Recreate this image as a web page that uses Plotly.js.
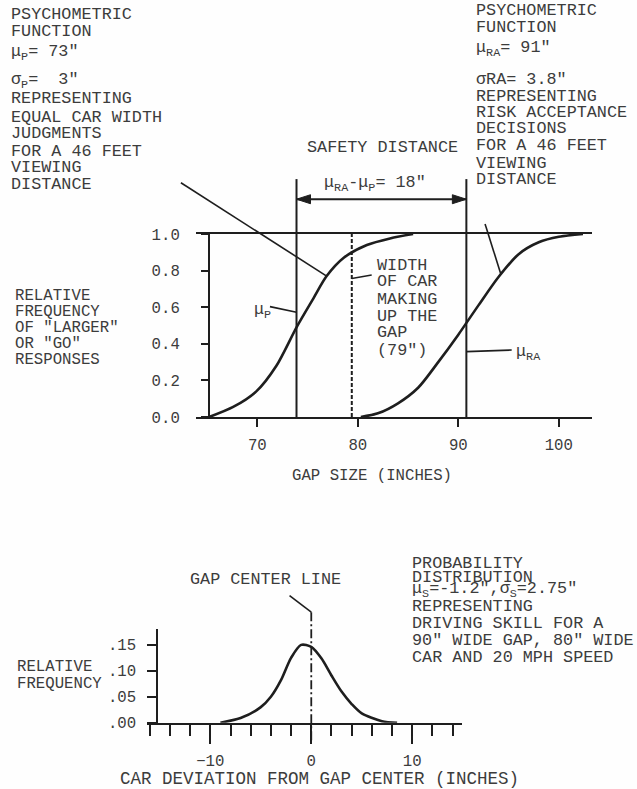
<!DOCTYPE html>
<html><head><meta charset="utf-8">
<script src="https://cdn.plot.ly/plotly-3.0.1.min.js"></script>
<style>html,body{margin:0;padding:0;background:#fefefe}#chart{width:637px;height:789px}</style>
</head><body><div id="chart"></div>
<script>
// ===== DATA: upper panel (psychometric functions) =====
const perceptX = [65.2, 67.6, 69.9, 71.9, 73.9, 75.6, 76.9, 78.6, 80.9, 83.2, 85.5];
const perceptY = [0, 0.055, 0.14, 0.28, 0.49, 0.65, 0.77, 0.87, 0.94, 0.976, 1.0];
const riskX = [80.3, 82, 84, 86, 88, 90, 92, 94, 96, 98, 100, 102.4];
const riskY = [0, 0.02, 0.075, 0.16, 0.30, 0.45, 0.61, 0.765, 0.89, 0.955, 0.985, 1.0];
const muPLine = 73.9;
const muRALine = 90.8;
const carWidthLine = 79.4;
const upperXTicks = [70, 80, 90, 100];
const upperYTicks = [0, 0.2, 0.4, 0.6, 0.8, 1.0];
const upperYTickText = ["0.0", "0.2", "0.4", "0.6", "0.8", "1.0"];

// ===== DATA: lower panel (driving skill distribution) =====
const devX = [-9, -7, -5, -4, -3, -2, -1, 0, 1, 2, 3, 4, 5, 7, 8.5];
const devY = [0, 0.009, 0.03, 0.05, 0.082, 0.125, 0.15, 0.146, 0.124, 0.091, 0.06, 0.036, 0.018, 0.003, 0];
const gapCenterLine = 0;
const lowerYTicks = [0, 0.05, 0.10, 0.15];
const lowerYTickText = [".00", ".05", ".10", ".15"];

// ===== TEXT =====
const leftNote = ["PSYCHOMETRIC", "FUNCTION", "μ<sub>P</sub>= 73\"", "σ<sub>P</sub>=\u00a0\u00a03\"", "REPRESENTING",
  "EQUAL CAR WIDTH", "JUDGMENTS", "FOR A 46 FEET", "VIEWING", "DISTANCE"];
const rightNote = ["PSYCHOMETRIC", "FUNCTION", "μ<sub>RA</sub>= 91\"", "σRA= 3.8\"", "REPRESENTING",
  "RISK ACCEPTANCE", "DECISIONS", "FOR A 46 FEET", "VIEWING", "DISTANCE"];
const upperYTitle = ["RELATIVE", "FREQUENCY", "OF \"LARGER\"", "OR \"GO\"", "RESPONSES"];
const widthNote = ["WIDTH", "OF CAR", "MAKING", "UP THE", "GAP", "(79\")"];
const skillNote = ["PROBABILITY", "DISTRIBUTION", "μ<sub>S</sub>=-1.2\",σ<sub>S</sub>=2.75\"", "REPRESENTING",
  "DRIVING SKILL FOR A", "90\" WIDE GAP, 80\" WIDE", "CAR AND 20 MPH SPEED"];
const lowerYTitle = ["RELATIVE", "FREQUENCY"];

// ===== LAYOUT =====
const W = 637, H = 789;
const INK = "#1e1e1e", TXT = "#3c3c3c";
const FONT = "Liberation Mono, Courier New, monospace";
const px = v => v / W, py = v => 1 - v / H;

const xa1 = {domain: [px(196), px(592)], range: [63.9, 103.3], anchor: "y",
  showline: true, mirror: true, linecolor: INK, linewidth: 2, showgrid: false, zeroline: false,
  tickmode: "array", tickvals: upperXTicks, ticks: "outside", ticklen: 8, tickwidth: 2, tickcolor: INK,
  ticklabelstandoff: 4, tickfont: {family: FONT, size: 15.7, color: TXT}};
const ya1 = {domain: [py(417), py(234)], range: [0, 1], anchor: "free", position: px(209),
  showline: true, linecolor: INK, linewidth: 2, showgrid: false, zeroline: false,
  tickmode: "array", tickvals: upperYTicks, ticktext: upperYTickText, ticks: "outside", ticklen: 7,
  tickwidth: 2, tickcolor: INK, ticklabelstandoff: 18, tickfont: {family: FONT, size: 15.7, color: TXT}};
const xa2 = {domain: [px(146.7), px(461.7)], range: [-16.3, 14.9], anchor: "y2",
  showline: true, linecolor: INK, linewidth: 2, showgrid: false, zeroline: false,
  tick0: 0, dtick: 10, ticks: "outside", ticklen: 19, tickwidth: 2, tickcolor: INK,
  minor: {tick0: 0, dtick: 2, ticks: "outside", ticklen: 11, tickwidth: 2, tickcolor: INK, showgrid: false},
  ticklabelstandoff: 3, tickfont: {family: FONT, size: 15.7, color: TXT}};
const ya2 = {domain: [py(722.7), py(629.3)], range: [0, 0.18], anchor: "free", position: px(157.3),
  showline: true, linecolor: INK, linewidth: 2, showgrid: false, zeroline: false,
  tickmode: "array", tickvals: lowerYTicks, ticktext: lowerYTickText, ticks: "outside", ticklen: 9,
  tickwidth: 2, tickcolor: INK, ticklabelstandoff: 8, tickfont: {family: FONT, size: 15.7, color: TXT}};

// data -> paper through each axis' own domain & range
const toPaper = (ax, v) => ax.domain[0] + (v - ax.range[0]) / (ax.range[1] - ax.range[0]) * (ax.domain[1] - ax.domain[0]);

const annotations = [];
function textLines(lines, xPx, yPx, size) {
  lines.forEach((t, i) => annotations.push({text: t, xref: "paper", yref: "paper", x: px(xPx), y: py(yPx[i]),
    xanchor: "left", yanchor: "middle", showarrow: false, font: {family: FONT, size: size, color: TXT}}));
}
textLines(leftNote, 9, [14, 32, 53, 81, 99, 117, 134, 151, 167, 184], 16.8);
textLines(rightNote, 474, [11, 27.5, 49, 79, 96, 112, 128.5, 145.5, 163, 180], 16.8);
textLines(upperYTitle, 13, [296, 312, 328, 344, 360], 15.7);
textLines(widthNote, 375, [265, 282, 299, 316, 333, 350], 16.8);
textLines(skillNote, 410, [563, 577, 590, 606, 623, 640, 657], 16.8);
textLines(lowerYTitle, 15, [667, 684], 15.7);
textLines(["SAFETY DISTANCE"], 305, [147], 16.8);
textLines(["μ<sub>RA</sub>-μ<sub>P</sub>= 18\""], 322, [184], 16.8);
textLines(["μ<sub>P</sub>"], 252, [311], 16.8);
textLines(["μ<sub>RA</sub>"], 514, [353], 16.8);
textLines(["GAP CENTER LINE"], 188, [579], 16.8);
textLines(["GAP SIZE (INCHES)"], 290, [476], 15.7);
textLines(["CAR DEVIATION FROM GAP CENTER (INCHES)"], 118, [779], 17.5);

const shapes = [];
// leader line between two data points of a panel (paper coords so it is not clipped)
function leader(xa, ya, x0, y0, x1, y1, w) {
  shapes.push({type: "line", xref: "paper", yref: "paper",
    x0: toPaper(xa, x0), y0: toPaper(ya, y0), x1: toPaper(xa, x1), y1: toPaper(ya, y1),
    line: {color: INK, width: w || 1.6}});
}
leader(xa1, ya1, 76.9, 0.77, 62.4, 1.28);
leader(xa1, ya1, muPLine, 0.572, 71.26, 0.603);
leader(xa1, ya1, 94.2, 0.786, 92.66, 1.055);
leader(xa1, ya1, muRALine, 0.357, 95.31, 0.366);
leader(xa1, ya1, carWidthLine, 0.757, 81.38, 0.776);
leader(xa1, ya1, muPLine, 0, muPLine, 1.3, 2);
leader(xa1, ya1, muRALine, 0, muRALine, 1.3, 2);
leader(xa2, ya2, gapCenterLine, 0.213, -2.15, 0.245);
// safety distance double arrow
const arrowY = 1.19;
leader(xa1, ya1, muPLine, arrowY, muRALine, arrowY, 1.8);
function head(xa, ya, xv, yv, dir) {
  const X = toPaper(xa, xv), Y = toPaper(ya, yv);
  const L = 14 / W * dir, Hh = 4.5 / H;
  shapes.push({type: "path", xref: "paper", yref: "paper",
    path: `M ${X} ${Y} L ${X - L} ${Y + Hh} L ${X - L} ${Y - Hh} Z`,
    fillcolor: INK, line: {color: INK, width: 1}});
}
head(xa1, ya1, muPLine, arrowY, -1);
head(xa1, ya1, muRALine, arrowY, 1);
// dashed car-width line and dash-dot gap centre line
shapes.push({type: "line", xref: "x", yref: "y", x0: carWidthLine, x1: carWidthLine, y0: 0, y1: 1,
  line: {color: INK, width: 2, dash: "4px,2px"}});
shapes.push({type: "line", xref: "paper", yref: "paper",
  x0: toPaper(xa2, gapCenterLine), x1: toPaper(xa2, gapCenterLine),
  y0: toPaper(ya2, -0.034), y1: toPaper(ya2, 0.213), line: {color: INK, width: 1.8, dash: "9px,3px,2px,3px"}});

const traces = [
  {x: perceptX, y: perceptY, xaxis: "x", yaxis: "y", mode: "lines", line: {color: INK, width: 2.6, shape: "spline", smoothing: 0.8}, hoverinfo: "skip"},
  {x: riskX, y: riskY, xaxis: "x", yaxis: "y", mode: "lines", line: {color: INK, width: 2.6, shape: "spline", smoothing: 0.8}, hoverinfo: "skip"},
  {x: devX, y: devY, xaxis: "x2", yaxis: "y2", mode: "lines", line: {color: INK, width: 2.6, shape: "spline", smoothing: 0.8}, hoverinfo: "skip"}
];

const layout = {width: W, height: H, margin: {l: 0, r: 0, t: 0, b: 0}, showlegend: false,
  paper_bgcolor: "#fefefe", plot_bgcolor: "rgba(0,0,0,0)",
  xaxis: xa1, yaxis: ya1, xaxis2: xa2, yaxis2: ya2, annotations: annotations, shapes: shapes};

Plotly.newPlot("chart", traces, layout, {staticPlot: true, displayModeBar: false});
</script></body></html>
